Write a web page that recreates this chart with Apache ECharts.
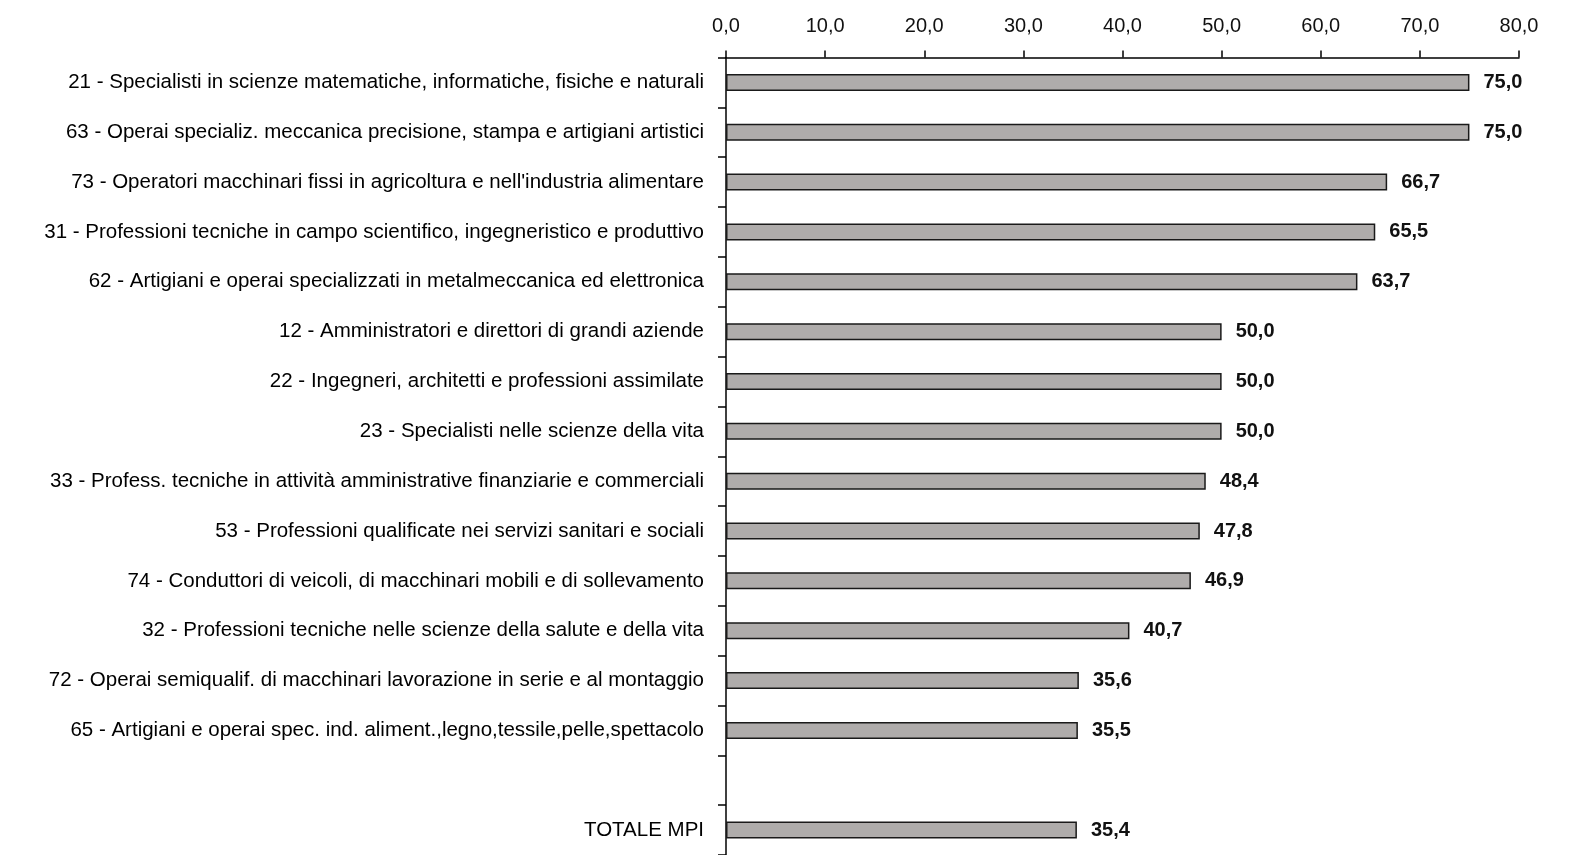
<!DOCTYPE html>
<html>
<head>
<meta charset="utf-8">
<script src="https://cdn.jsdelivr.net/npm/echarts@6/dist/echarts.min.js"></script>
<style>
html,body{margin:0;padding:0;background:#fff;}
#chart{width:1580px;height:855px;}
</style>
</head>
<body>
<div id="chart"></div>
<script>
const categories = [
  "21 - Specialisti in scienze matematiche, informatiche, fisiche e naturali",
  "63 - Operai specializ. meccanica precisione, stampa e artigiani artistici",
  "73 - Operatori macchinari fissi in agricoltura e nell'industria alimentare",
  "31 - Professioni tecniche in campo scientifico, ingegneristico e produttivo",
  "62 - Artigiani e operai specializzati in metalmeccanica ed elettronica",
  "12 - Amministratori e direttori di grandi aziende",
  "22 - Ingegneri, architetti e professioni assimilate",
  "23 - Specialisti nelle scienze della vita",
  "33 - Profess. tecniche in attività amministrative finanziarie e commerciali",
  "53 - Professioni qualificate nei servizi sanitari e sociali",
  "74 - Conduttori di veicoli, di macchinari mobili e di sollevamento",
  "32 - Professioni tecniche nelle scienze della salute e della vita",
  "72 - Operai semiqualif. di macchinari lavorazione in serie e al montaggio",
  "65 - Artigiani e operai spec. ind. aliment.,legno,tessile,pelle,spettacolo",
  "",
  "TOTALE MPI"
];
const values = [75.0, 75.0, 66.7, 65.5, 63.7, 50.0, 50.0, 50.0, 48.4, 47.8, 46.9, 40.7, 35.6, 35.5, null, 35.4];
const axisMin = 0, axisMax = 80, axisStep = 10;

const FONT = '"Liberation Sans Narrow", "Arial Narrow", "Liberation Sans", Arial, sans-serif';
const fmt = v => v.toFixed(1).replace('.', ',');

const chart = echarts.init(document.getElementById('chart'));
chart.setOption({
  animation: false,
  backgroundColor: '#fff',
  grid: { left: 726, top: 57.5, width: 793, height: 800, containLabel: false },
  xAxis: {
    type: 'value', position: 'top',
    min: axisMin, max: axisMax, interval: axisStep,
    axisLine: { show: true, lineStyle: { color: '#000', width: 1.5 } },
    axisTick: { show: true, inside: false, length: 7, lineStyle: { color: '#000', width: 1.5 } },
    splitLine: { show: false },
    axisLabel: { margin: 21, fontFamily: FONT, fontSize: 20, color: '#111', formatter: v => fmt(v) }
  },
  yAxis: {
    type: 'category', inverse: true, data: categories,
    axisLine: { show: true, lineStyle: { color: '#000', width: 1.5 } },
    axisTick: { show: true, inside: false, length: 8, lineStyle: { color: '#000', width: 1.5 } },
    axisLabel: { margin: 22, fontFamily: FONT, fontSize: 20.5, color: '#000' }
  },
  series: [{
    type: 'bar', data: values, barWidth: 17,
    itemStyle: { color: '#afacab', borderColor: '#1a1a1a', borderWidth: 1.5 },
    label: {
      show: true, position: 'right', distance: 14,
      fontFamily: FONT, fontSize: 20, fontWeight: 'bold', color: '#111',
      formatter: p => fmt(p.value)
    }
  }]
});
</script>
</body>
</html>
